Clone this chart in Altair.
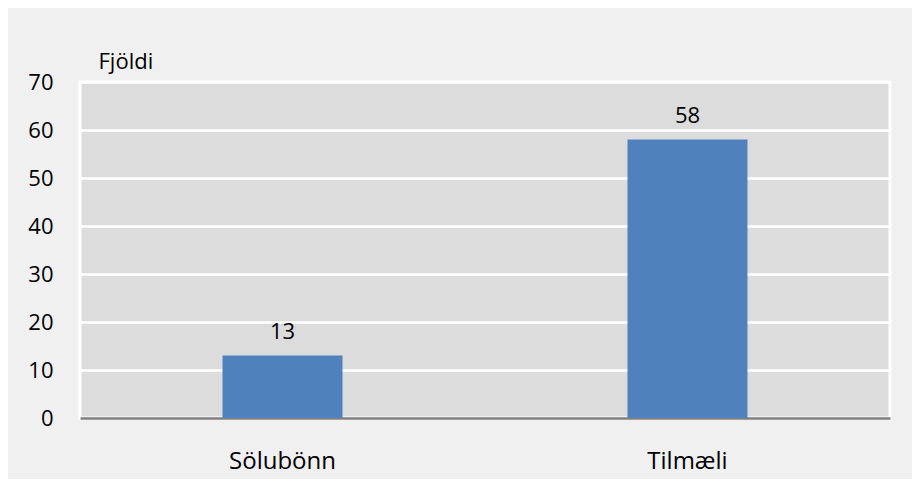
import altair as alt
import pandas as pd

categories = ["Sölubönn", "Tilmæli"]
values = [13, 58]
y_ticks = [0, 10, 20, 30, 40, 50, 60, 70]

df = pd.DataFrame({"flokkur": categories, "fjoldi": values})

FONT = "Open Sans"

base = alt.Chart(df).encode(
    x=alt.X("flokkur:N", sort=categories, title=None,
            axis=alt.Axis(labelAngle=0, labelFontSize=24, labelFont=FONT,
                          labelColor="#000000", labelPadding=31, ticks=False,
                          domain=True, domainColor="#7f7f7f", domainWidth=2.5,
                          grid=False)),
    y=alt.Y("fjoldi:Q", scale=alt.Scale(domain=[0, 70], nice=False),
            title="Fjöldi",
            axis=alt.Axis(values=y_ticks, labelFontSize=22, labelFont=FONT,
                          labelColor="#000000", labelPadding=27, ticks=False,
                          domain=False, grid=True, gridColor="#ffffff",
                          gridWidth=2.5, titleAngle=0, titleAlign="left",
                          titleBaseline="alphabetic", titleX=18, titleY=-14,
                          titleFontSize=22, titleFont=FONT,
                          titleFontWeight="normal", titleColor="#000000")),
)

bars = base.mark_bar(size=120, color="#4f81bd")
labels = base.mark_text(dy=-12, baseline="bottom", fontSize=22, font=FONT,
                        color="#000000").encode(text="fjoldi:Q")

chart = (bars + labels).properties(
    width=810, height=336,
    background="#f0f0f0",
    padding={"left": 72, "top": 74, "right": 22, "bottom": 61},
    autosize=alt.AutoSizeParams(type="none"),
).configure_view(fill="#dcdcdc", stroke="#ffffff", strokeWidth=3)

chart.save("out.html", embed_options={"renderer": "svg", "actions": False})
